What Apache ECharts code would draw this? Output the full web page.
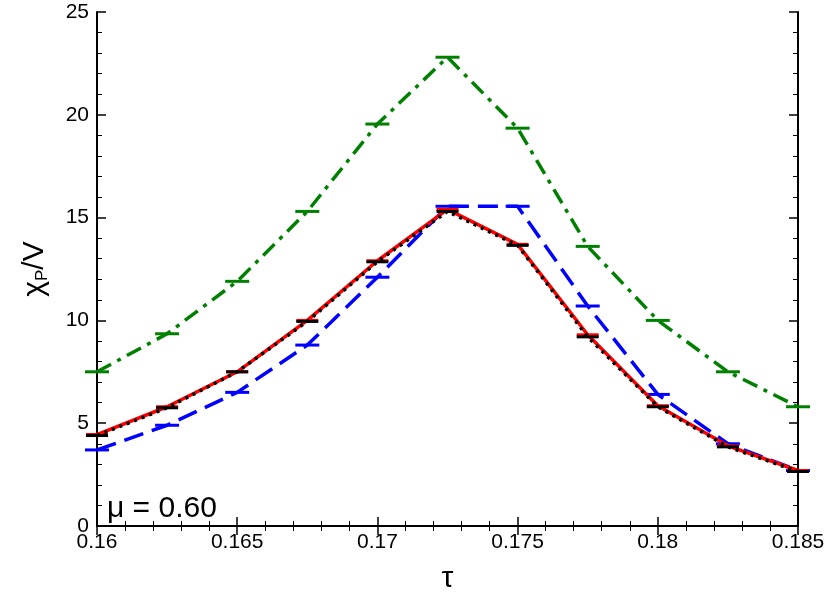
<!DOCTYPE html><html><head><meta charset="utf-8"><script src="https://cdn.jsdelivr.net/npm/echarts@6/dist/echarts.min.js"></script></head><body style="margin:0"><div id="c" style="width:830px;height:599px"></div><script>
const tau=[0.16,0.1625,0.165,0.1675,0.17,0.1725,0.175,0.1775,0.18,0.1825,0.185];
const green=[7.5,9.35,11.9,15.3,19.55,22.8,19.35,13.6,10.0,7.5,5.8];
const red=[4.45,5.8,7.5,10.0,12.9,15.4,13.7,9.3,5.85,3.9,2.7];
const black=[4.4,5.75,7.5,9.95,12.85,15.3,13.65,9.2,5.8,3.85,2.65];
const blue=[3.7,4.9,6.5,8.8,12.1,15.55,15.55,10.7,6.4,4.0,2.7];
const pairs=a=>tau.map((t,i)=>[t,a[i]]);
function s(name,data,color,type,w,ms,z){return {name,type:'line',data:pairs(data),lineStyle:{color,type,width:w},itemStyle:{color},symbol:'rect',symbolSize:[ms,3],z};}
const ax={min:0.16,max:0.185,interval:0.005,axisLine:{lineStyle:{color:'#000',width:2}},axisTick:{inside:true,length:9,lineStyle:{color:'#000',width:1.5}},minorTick:{show:true,splitNumber:5,length:5,lineStyle:{color:'#000'}},splitLine:{show:false}};
const ay={min:0,max:25,interval:5,axisLine:{lineStyle:{color:'#000',width:2}},axisTick:{inside:true,length:9,lineStyle:{color:'#000',width:1.5}},minorTick:{show:true,splitNumber:5,length:5,lineStyle:{color:'#000'}},splitLine:{show:false}};
echarts.init(document.getElementById('c')).setOption({animation:false,
grid:{left:97,right:32,top:12,bottom:59},
xAxis:[Object.assign({type:'value',position:'bottom',name:'τ',nameLocation:'middle',nameGap:38,nameTextStyle:{fontSize:30,color:'#000'},axisLabel:{fontSize:21,margin:6,color:'#000',formatter:v=>String(+v.toFixed(4))}},ax),
 Object.assign({type:'value',position:'top',axisLabel:{show:false}},ax)],
yAxis:[Object.assign({type:'value',position:'left',name:'{a|χ}{b|P}{a|/V}',nameLocation:'middle',nameGap:46,nameTextStyle:{fontSize:30,color:'#000',rich:{a:{fontSize:30,color:'#000'},b:{fontSize:17,color:'#000',padding:[16,0,0,0]}}},axisLabel:{fontSize:21,margin:8,color:'#000'}},ay),
 Object.assign({type:'value',position:'right',axisLabel:{show:false}},ay)],
graphic:[{type:'text',left:107,top:494,style:{text:'μ = 0.60',fontSize:30,fill:'#000'}}],
series:[s('g',green,'#008000',[16,7,4,7],3.5,24,2),s('b',blue,'#0000ff',[20,9],3.5,24,3),s('r',red,'#ff0000','solid',3.5,22,4),s('k',black,'#000',[3,5],3.5,22,5)]});
</script></body></html>
